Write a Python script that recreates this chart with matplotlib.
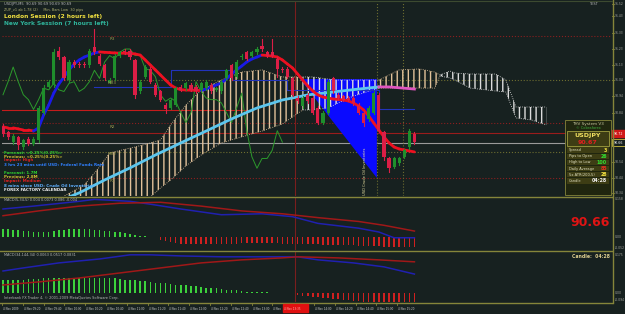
import matplotlib.pyplot as plt
import numpy as np
from matplotlib.lines import Line2D
from matplotlib.patches import Rectangle

W, H = 625, 314
BG = "#172120"
OLIVE = "#85853a"
UP = "#1f8f2c"
DOWN = "#dc1e46"

# ---- USDJPY M5 candles (4 Nov 2009) ----
opens = [90.75, 90.72, 90.66, 90.69, 90.63, 90.68, 90.65, 90.67, 90.84, 91.00,
         91.01, 91.22, 91.18, 91.04, 91.15, 91.14, 91.14, 91.13, 91.24, 91.19,
         91.13, 91.02, 91.05, 91.19, 91.22, 91.22, 91.16, 90.97, 91.06, 91.11,
         91.01, 90.97, 90.89, 90.87, 90.89, 91.00, 90.99, 91.01, 91.00, 90.98,
         90.99, 91.01, 90.98, 90.97, 91.05, 91.13, 91.06, 91.18, 91.21, 91.19,
         91.21, 91.25, 91.21, 91.21, 91.17, 91.11, 91.11, 91.05, 90.93, 90.88,
         90.95, 90.93, 90.87, 90.78, 90.84, 91.05, 90.95, 90.94, 90.93, 90.93,
         90.89, 90.84, 90.80, 90.84, 90.95, 90.72, 90.56, 90.51, 90.53, 90.57,
         90.63, 90.71]
closes = [90.71, 90.69, 90.70, 90.64, 90.67, 90.65, 90.68, 90.87, 90.99, 91.03,
          91.21, 91.18, 91.05, 91.15, 91.13, 91.13, 91.13, 91.22, 91.21, 91.14,
          91.05, 91.04, 91.19, 91.21, 91.21, 91.18, 90.95, 91.03, 91.12, 91.03,
          90.95, 90.92, 90.86, 90.92, 90.99, 90.98, 91.02, 90.98, 90.97, 91.02,
          91.03, 90.97, 90.99, 91.03, 91.10, 91.05, 91.15, 91.19, 91.17, 91.21,
          91.23, 91.23, 91.19, 91.19, 91.11, 91.10, 91.06, 90.95, 90.91, 90.93,
          90.91, 90.84, 90.78, 90.84, 91.03, 90.97, 90.93, 90.92, 90.92, 90.90,
          90.84, 90.78, 90.87, 90.96, 90.73, 90.57, 90.50, 90.56, 90.56, 90.61,
          90.73, 90.66]
highs = [90.77, 90.73, 90.71, 90.70, 90.68, 90.69, 90.69, 90.88, 91.01, 91.04,
         91.23, 91.24, 91.19, 91.16, 91.16, 91.15, 91.15, 91.23, 91.35, 91.20,
         91.14, 91.05, 91.20, 91.22, 91.23, 91.23, 91.17, 91.04, 91.13, 91.12,
         91.02, 90.98, 90.90, 90.93, 91.00, 91.01, 91.03, 91.02, 91.01, 91.03,
         91.04, 91.02, 91.00, 91.04, 91.11, 91.14, 91.16, 91.20, 91.22, 91.22,
         91.24, 91.29, 91.22, 91.29, 91.18, 91.12, 91.12, 91.06, 90.94, 90.94,
         90.96, 90.94, 90.88, 90.85, 91.04, 91.06, 90.96, 90.95, 90.94, 90.94,
         90.90, 90.85, 90.88, 90.97, 90.96, 90.73, 90.57, 90.57, 90.57, 90.62,
         90.74, 90.72]
lows = [90.70, 90.68, 90.65, 90.62, 90.62, 90.64, 90.64, 90.66, 90.83, 90.99,
        91.00, 91.17, 91.04, 91.03, 91.12, 91.12, 91.12, 91.12, 91.20, 91.13,
        91.04, 91.02, 91.04, 91.18, 91.20, 91.17, 90.93, 90.96, 91.05, 91.02,
        90.94, 90.91, 90.84, 90.86, 90.88, 90.97, 90.98, 90.97, 90.96, 90.97,
        90.98, 90.96, 90.97, 90.96, 91.04, 91.04, 91.05, 91.17, 91.16, 91.18,
        91.20, 91.22, 91.18, 91.18, 91.06, 91.09, 91.05, 90.94, 90.90, 90.87,
        90.90, 90.83, 90.77, 90.77, 90.83, 90.96, 90.92, 90.91, 90.91, 90.89,
        90.83, 90.76, 90.79, 90.83, 90.72, 90.55, 90.48, 90.50, 90.52, 90.56,
        90.62, 90.65]

# fast moving average (blue rising / red falling)
fast_ma = [90.753, 90.747, 90.747, 90.741, 90.734, 90.734, 90.728, 90.747, 90.826, 90.887,
           90.961, 91.016, 91.059, 91.102, 91.138, 91.163, 91.181, 91.193, 91.206, 91.212,
           91.210, 91.208, 91.206, 91.205, 91.204, 91.203, 91.200, 91.193, 91.163, 91.132,
           91.102, 91.071, 91.040, 91.010, 90.991, 90.981, 90.979, 90.978, 90.977, 90.976,
           90.985, 90.998, 91.010, 91.022, 91.047, 91.077, 91.102, 91.126, 91.151, 91.169,
           91.181, 91.193, 91.190, 91.187, 91.181, 91.163, 91.138, 91.114, 91.077, 91.040,
           91.004, 90.973, 90.949, 90.936, 90.930, 90.924, 90.921, 90.918, 90.912, 90.900,
           90.881, 90.857, 90.820, 90.777, 90.734, 90.692, 90.655, 90.630, 90.618, 90.612,
           90.606, 90.600]

# slow moving average (sky blue, pink at the end)
slow_bars = [13, 15, 20, 25, 30, 35, 40, 45, 50, 55, 60, 65, 70, 74, 76, 81]
slow_ma = [90.324, 90.349, 90.428, 90.502, 90.581, 90.655, 90.728, 90.802, 90.869,
           90.918, 90.949, 90.967, 90.985, 90.998, 90.998, 90.985]

# kijun-sen (thin blue steps)
kijun_bars = [18, 33, 33, 45, 45, 56, 56, 74, 74, 81]
kijun = [91.00, 91.00, 91.10, 91.10, 91.04, 91.04, 90.98, 90.98, 90.86, 90.86]

# ichimoku cloud pieces: (bars, upper span, lower span, colour)
cloud = [
    ([11, 16, 19, 21, 26, 29, 31, 33, 36, 39, 43, 47, 51, 55, 59],
     [90.312, 90.398, 90.508, 90.594, 90.630, 90.655, 90.673, 90.765, 90.887, 90.979,
      91.040, 91.089, 91.102, 91.059, 91.059],
     [90.275, 90.275, 90.275, 90.275, 90.275, 90.324, 90.379, 90.428, 90.514, 90.581,
      90.655, 90.692, 90.728, 90.771, 90.857], "#e2c29a"),
    ([59, 61, 64, 66, 69, 74],
     [91.059, 91.059, 91.046, 91.040, 91.040, 91.040],
     [90.857, 90.857, 90.869, 90.900, 90.942, 90.991], "#dcdcdc"),
    ([74, 78, 82, 85, 86],
     [91.040, 91.102, 91.108, 91.089, 91.071],
     [90.991, 90.991, 90.991, 90.991, 91.065], "#e2c29a"),
    ([86, 88, 89, 92, 97, 99, 101, 104, 107],
     [91.071, 91.095, 91.083, 91.077, 91.077, 91.040, 90.875, 90.875, 90.875],
     [91.065, 91.053, 91.040, 90.991, 90.973, 90.967, 90.808, 90.796, 90.765], "#dcdcdc"),
]

# blue fan area
fan_bars = [58.5, 73.6, 73.6, 64.4]
fan_price = [91.046, 91.046, 90.441, 90.808]

# MACD(5,34,5) pane
macd1_bars = [0, 6, 15, 18, 25, 29, 35, 43, 51, 57, 62, 70, 74, 77, 81]
macd1_main = [0.116, 0.128, 0.148, 0.156, 0.148, 0.136, 0.116, 0.092, 0.096, 0.084,
              0.056, 0.036, 0.020, -0.004, -0.004]
macd1_sig_bars = [0, 7, 15, 23, 31, 39, 47, 55, 62, 70, 75, 81]
macd1_sig = [0.088, 0.108, 0.128, 0.140, 0.144, 0.128, 0.108, 0.096, 0.080, 0.064, 0.048, 0.024]
macd1_hist = [0.032, 0.032, 0.030, 0.028, 0.026, 0.024, 0.022, 0.020, 0.020, 0.022,
              0.024, 0.028, 0.030, 0.032, 0.032, 0.032, 0.032, 0.032, 0.030, 0.028,
              0.026, 0.024, 0.022, 0.020, 0.016, 0.012, 0.008, 0.004, 0.002, 0.001,
              -0.002, -0.012, -0.016, -0.020, -0.024, -0.028, -0.028, -0.030, -0.032, -0.032,
              -0.032, -0.032, -0.030, -0.030, -0.028, -0.028, -0.028, -0.026, -0.026, -0.024,
              -0.024, -0.024, -0.024, -0.026, -0.026, -0.028, -0.028, -0.028, -0.030, -0.030,
              -0.032, -0.032, -0.032, -0.034, -0.034, -0.036, -0.036, -0.036, -0.036, -0.036,
              -0.038, -0.038, -0.040, -0.040, -0.040, -0.042, -0.042, -0.044, -0.044, -0.044,
              -0.044, -0.044]

# MACD(34,144,34) pane
macd2_bars = [0, 4, 11, 19, 25, 29, 35, 43, 51, 58, 62, 69, 75, 81]
macd2_main = [0.101, 0.115, 0.138, 0.156, 0.175, 0.175, 0.170, 0.166, 0.166, 0.166,
              0.152, 0.138, 0.120, 0.087]
macd2_sig_bars = [0, 7, 15, 23, 31, 39, 47, 55, 58, 66, 74, 81]
macd2_sig = [0.037, 0.051, 0.069, 0.092, 0.115, 0.138, 0.152, 0.161, 0.166, 0.161, 0.152, 0.143]
macd2_hist = [0.060, 0.060, 0.060, 0.060, 0.062, 0.064, 0.064, 0.064, 0.067, 0.067,
              0.069, 0.069, 0.069, 0.069, 0.069, 0.069, 0.069, 0.069, 0.069, 0.069,
              0.069, 0.067, 0.067, 0.064, 0.062, 0.060, 0.058, 0.055, 0.053, 0.051,
              0.048, 0.046, 0.044, 0.041, 0.039, 0.037, 0.035, 0.032, 0.030, 0.028,
              0.025, 0.023, 0.021, 0.018, 0.016, 0.014, 0.012, 0.009, 0.007, 0.006,
              0.005, 0.004, 0.003, 0.002, 0.002, 0.001, 0.001, -0.002, -0.009, -0.012,
              -0.014, -0.016, -0.018, -0.021, -0.023, -0.025, -0.028, -0.030, -0.032, -0.035,
              -0.037, -0.039, -0.041, -0.041, -0.044, -0.046, -0.048, -0.051, -0.051, -0.053,
              -0.055, -0.055]

time_labels = ["4 Nov 2009", "4 Nov 09:20", "4 Nov 09:40", "4 Nov 10:00", "4 Nov 10:20",
               "4 Nov 10:40", "4 Nov 11:00", "4 Nov 11:20", "4 Nov 11:40", "4 Nov 12:00",
               "4 Nov 12:20", "4 Nov 12:40", "4 Nov 13:00", "4 Nov 13:20", "4 Nov 13:40",
               "4 Nov 14:00", "4 Nov 14:20", "4 Nov 14:40", "4 Nov 15:00", "4 Nov 15:20"]
price_ticks = [91.52, 91.43, 91.33, 91.23, 91.13, 91.04, 90.94, 90.84, 90.54, 90.44, 90.34]

bars = np.arange(len(closes))
XL = (-0.2, 119.9)


def box(x0, y0, x1, y1):
    return [x0 / W, 1 - y1 / H, (x1 - x0) / W, (y1 - y0) / H]


def ftext(x, y, s, **kw):
    kw.setdefault("va", "center")
    kw.setdefault("fontsize", 3.2)
    kw.setdefault("color", "#b8b8b8")
    fig.text(x / W, 1 - y / H, s, **kw)


def fline(xs, ys, **kw):
    fig.add_artist(Line2D([x / W for x in xs], [1 - y / H for y in ys], **kw))


fig = plt.figure(figsize=(W / 100, H / 100), dpi=100, facecolor=BG)
ax = fig.add_axes(box(2, 2, 612, 196))
ax2 = fig.add_axes(box(2, 197, 612, 250))
ax3 = fig.add_axes(box(2, 252, 612, 302))
for a in (ax, ax2, ax3):
    a.set_facecolor(BG)
    a.set_xlim(*XL)
    a.set_xticks([])
    a.set_yticks([])
    for s in a.spines.values():
        s.set_visible(False)

# ---------------- main pane ----------------
ax.set_ylim(90.330, 91.518)
for lvl, col, ls, x0, x1 in [(91.310, "#8a1f1f", ":", XL[0], XL[1]),
                             (91.040, "#6d6d30", ":", XL[0], XL[1]),
                             (90.857, "#c41c1c", "-", XL[0], 48),
                             (90.777, "#8a1f1f", ":", XL[0], XL[1]),
                             (90.716, "#9a1c1c", "-", XL[0], XL[1]),
                             (90.655, "#9a9a9a", "-", XL[0], XL[1]),
                             (90.600, "#6d6d30", ":", XL[0], XL[1]),
                             (90.441, "#8a1f1f", ":", XL[0], XL[1])]:
    ax.plot([x0, x1], [lvl, lvl], color=col, ls=ls, lw=0.8, zorder=1)
ax.axvline(73.6, color="#6d6d30", ls=":", lw=0.8, zorder=1)
ax.axvline(78.7, color="#6d6d30", ls=":", lw=0.8, zorder=1)
for a in (ax, ax2, ax3):
    a.axvline(57.5, color="#7a1e1e", lw=0.8, zorder=1)

ax.fill(fan_bars, fan_price, color="#0a0aff", lw=0, zorder=2)

for cb, up, lo, col in cloud:
    ax.fill_between(cb, up, lo, facecolor="none", edgecolor=col, hatch="|||", lw=0, zorder=3)
    ax.plot(cb, up, color=col, ls=":", lw=0.6, zorder=3)
    ax.plot(cb, lo, color=col, ls=":", lw=0.6, zorder=3)

ax.plot(kijun_bars, kijun, color="#2233bb", lw=0.8, zorder=3)
ax.plot(bars[:-26], closes[26:], color="#2c9a2c", lw=0.7, zorder=3)

sky = "#5cc6ee"
ax.plot(slow_bars[:-2], slow_ma[:-2], color=sky, lw=2.0, zorder=4, solid_capstyle="round")
ax.plot(slow_bars[-3:], slow_ma[-3:], color="#e055c0", lw=2.0, zorder=4)

for i in range(len(fast_ma) - 1):
    col = "#1a1ae6" if fast_ma[i + 1] > fast_ma[i] else "#ee1020"
    ax.plot([i, i + 1], [fast_ma[i], fast_ma[i + 1]], color=col, lw=2.0, zorder=5,
            solid_capstyle="round")

for i in bars:
    col = UP if closes[i] >= opens[i] else DOWN
    ax.plot([i, i], [lows[i], highs[i]], color=col, lw=0.8, zorder=6)
    ax.bar(i, closes[i] - opens[i], bottom=opens[i], width=0.62, color=col, lw=0, zorder=6)

# pivot labels
for lbl, p in [("R3", 91.29), ("MR3", 91.025), ("R2", 90.755), ("MR2", 90.585), ("R1", 90.42)]:
    ax.text(21.5, p, lbl, color="#9a9a50", fontsize=3, ha="center", va="center", zorder=7)
ax.text(71.3, 90.48, "USD Crude Oil Inventories", rotation=90, color="#e8e0a0",
        fontsize=2.6, ha="center", va="center", zorder=7)

# ---------------- MACD panes ----------------
ax2.set_ylim(-0.055, 0.166)
ax2.bar(bars, macd1_hist, width=0.3,
        color=["#3cd23c" if v > 0 else "#d02020" for v in macd1_hist], lw=0)
ax2.plot(macd1_bars, macd1_main, color="#2020b0", lw=1.1)
ax2.plot(macd1_sig_bars, macd1_sig, color="#a01818", lw=1.1)

ax3.set_ylim(-0.041, 0.188)
ax3.bar(bars, macd2_hist, width=0.3,
        color=["#3cd23c" if v > 0 else "#d02020" for v in macd2_hist], lw=0)
ax3.plot(macd2_bars, macd2_main, color="#2020b0", lw=1.1)
ax3.plot(macd2_sig_bars, macd2_sig, color="#a01818", lw=1.1)

# ---------------- frame ----------------
fline([0, 612], [196.5, 196.5], color=OLIVE, lw=1)
fline([0, 612], [251, 251], color=OLIVE, lw=1)
fline([0, 612], [302.5, 302.5], color=OLIVE, lw=1)
fline([612.5, 612.5], [0, 303], color=OLIVE, lw=1)
fline([0, 612], [0.5, 0.5], color="#3c4a30", lw=0.8)

# right price scale
ylo, yhi = ax.get_ylim()
for p in price_ticks:
    y = 2 + (yhi - p) / (yhi - ylo) * 194
    y = min(max(y, 4), 193)
    fline([612, 614], [y, y], color=OLIVE, lw=0.6)
    ftext(614.5, y, f"{p:.2f}", fontsize=2.2, color="#a8a8a0")
for v, y in [("0.158", 199.5), ("0.00", 237), ("-0.052", 248), ("0.175", 255),
             ("0.00", 293), ("-0.094", 300)]:
    ftext(614.5, y, v, fontsize=2.2, color="#a8a8a0")

# time axis (label under the crosshair box is hidden, as in the terminal)
for k, lbl in enumerate(time_labels):
    x = 2 + 20.8 * k
    fline([x, x], [302.5, 305], color=OLIVE, lw=0.6)
    if k == 13:
        lbl = lbl[:5]
    if k == 14:
        continue
    ftext(x + 1, 308.5, lbl, fontsize=2.0, color="#c8c8c8")
fig.patches.append(Rectangle((283 / W, 1 - 312 / H), 25 / W, 8 / H,
                             transform=fig.transFigure, color="#e01010", zorder=5))
ftext(284, 308.5, "4 Nov 13:35", fontsize=2.0, color="#ffb0b0", zorder=6)

# text overlays
ftext(4, 3.5, "USDJPY,M5  90.69 90.69 90.69 90.69", fontsize=2.6)
ftext(4, 10, "ZUP_v1 ab 1.78 (2)     Min. Bars Low  30 pips", fontsize=2.5, color="#b0b070")
ftext(4, 16.5, "London Session (2 hours left)", fontsize=4.2, color="#f0e040", weight="bold")
ftext(4, 24, "New York Session (7 hours left)", fontsize=4.2, color="#2fb39a", weight="bold")

news = [("Forecast: <0.25%|0.25%>", "#30d030"), ("Previous: <0.25%|0.25%>", "#d0c030"),
        ("Impact: High", "#e02020"), ("3 hrs 23 mins until USD: Federal Funds Rate", "#3080ff"),
        (None, None), ("Forecast: 1.7M", "#30d030"), ("Previous: 2.8M", "#d0c030"),
        ("Impact: Medium", "#e02020"), ("8 mins since USD: Crude Oil Inventories", "#60b0ff"),
        ("FOREX FACTORY CALENDAR", "#f0f0f0")]
for k, (s, c) in enumerate(news):
    if s:
        ftext(4, 152 + 4.2 * k, s, fontsize=2.9, color=c, weight="bold")

ftext(4, 200, "MACD(5,34,5) 0.004 0.0073 0.086 -0.004", fontsize=2.5)
ftext(4, 255.5, "MACD(34,144,34) 0.0063 0.0517 0.0831", fontsize=2.5)
ftext(4, 298.5, "Interbank FX Trader 4, \u00a9 2001-2009 MetaQuotes Software Corp.", fontsize=2.5)
ftext(610, 223, "90.66", fontsize=9, color="#e01414", weight="bold", ha="right")
ftext(610, 257, "Candle:  04:28", fontsize=3.3, color="#e0d090", ha="right", weight="bold")
ftext(598, 4, "TEST", fontsize=2.5, ha="right")

# info panel
panel = "#3d3d14"
fig.patches.append(Rectangle((565 / W, 1 - 195 / H), 46 / W, 75 / H, transform=fig.transFigure,
                             facecolor="#20260f", edgecolor=OLIVE, lw=0.6))
ftext(588, 124, "THV System V3", fontsize=3.0, ha="center", color="#c8c8a0")
ftext(588, 128, "\u00a9 Cobraforex", fontsize=2.6, ha="center", color="#40b040")
fig.patches.append(Rectangle((567 / W, 1 - 146 / H), 42 / W, 15 / H, transform=fig.transFigure,
                             facecolor=panel, edgecolor="#a0a040", lw=0.6))
ftext(588, 135, "USDJPY", fontsize=4.5, ha="center", color="#f0e060", weight="bold")
ftext(588, 142, "90.67", fontsize=4.5, ha="center", color="#e02020", weight="bold")
rows = [("Spread", "3", "#f0e040"), ("Pips to Open", "26", "#30e030"),
        ("High to Low", "100", "#30e030"), ("Daily Average", "85", "#e03020"),
        ("5x ATR(200,5)", "28", "#f0e040"), ("Candle", "04:28", "#f0f0f0")]
for k, (name, val, c) in enumerate(rows):
    y = 150 + 6.2 * k
    fig.patches.append(Rectangle((567 / W, 1 - (y + 2.6) / H), 42 / W, 5.2 / H,
                                 transform=fig.transFigure, facecolor=panel, lw=0))
    ftext(569, y, name, fontsize=2.6, color="#e0e0c0")
    ftext(607, y, val, fontsize=3.4, color=c, ha="right", weight="bold")

# price tags
fig.patches.append(Rectangle((612 / W, 1 - 137 / H), 13 / W, 7 / H, transform=fig.transFigure,
                             color="#d01818"))
ftext(614, 133.5, "90.72", fontsize=2.3, color="#ffffff")
fig.patches.append(Rectangle((612 / W, 1 - 146.5 / H), 13 / W, 7 / H, transform=fig.transFigure,
                             facecolor=BG, edgecolor="#d0c040", lw=0.6))
ftext(614, 143, "90.66", fontsize=2.3, color="#ffffff")

fig.savefig("out.png", dpi=100, facecolor=BG)
